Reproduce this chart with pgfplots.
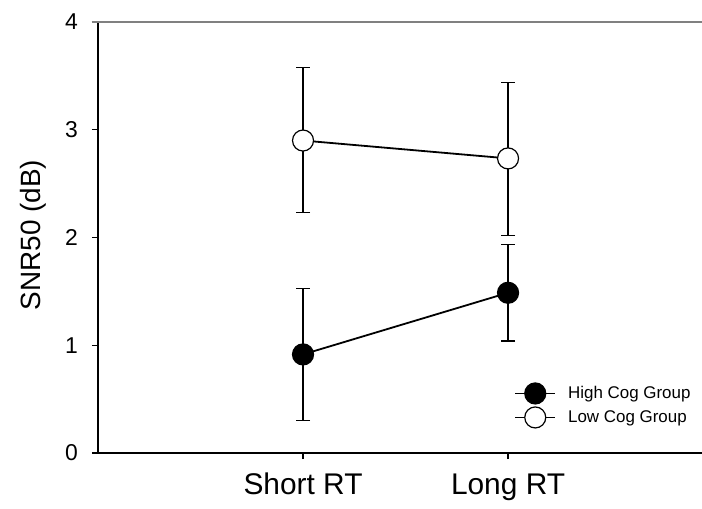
\documentclass[border=0pt]{standalone}
\usepackage{pgfplots}
\pgfplotsset{compat=1.18}
\usepackage{pgfplotstable}
\usepackage{fontspec}
\setmainfont{Liberation Sans}

\pgfplotstableread{
x y ep em
1 0.915 0.615 0.615
2 1.487 0.449 0.447
}\high
\pgfplotstableread{
x y ep em
1 2.900 0.680 0.665
2 2.734 0.701 0.714
}\low

\begin{document}
\begin{tikzpicture}
\begin{axis}[
 name=ax, at={(0,0)}, anchor=south west,
 scale only axis, width=604bp, height=431bp,
 xmin=0, xmax=2.946, ymin=0, ymax=4,
 axis x line=bottom, axis y line=left,
 axis line style={-, line width=1.4bp, black},
 xtick={1,2}, xticklabels={Short RT, Long RT},
 ytick={0,1,2,3,4},
 tick align=outside, major tick length=6bp,
 tick style={black, line width=1.2bp},
 /pgf/number format/assume math mode=true,
 xticklabel style={font=\fontsize{30}{30}\selectfont, inner sep=0pt, anchor=north, text height=21.5bp, text depth=0bp, yshift=-14bp},
 yticklabel style={font=\fontsize{23}{23}\selectfont, inner sep=0pt, xshift=-14bp},
 ylabel={SNR50 (dB)},
 every axis y label/.style={at={(axis description cs:-0.0861,0.506)}, rotate=90, anchor=south, inner sep=0pt, font=\fontsize{28}{28}\selectfont},
 clip=false,
 legend style={draw=none, fill=none, at={(rel axis cs:0.689,0.163)}, anchor=north west, font=\fontsize{17}{20}\selectfont, inner sep=0pt, row sep=3bp, column sep=10bp},
 legend cell align=left,
 legend image code/.code={\draw[#1, mark repeat=2, mark phase=2] plot coordinates {(0bp,0bp)(20bp,0bp)(40bp,0bp)};},
]
\addplot[black, line width=1.8bp, mark=*, mark size=10.5bp, mark options={fill=black, line width=1.2bp},
  error bars/.cd, y dir=both, y explicit,
  error bar style={line width=1.2bp, black},
  error mark options={rotate=90, mark size=7bp, line width=1.2bp, black}]
  table[x=x, y=y, y error plus=ep, y error minus=em]{\high};
\addlegendentry{High Cog Group}
\addplot[black, line width=1.8bp, mark=*, mark size=10.5bp, mark options={fill=white, line width=1.2bp},
  error bars/.cd, y dir=both, y explicit,
  error bar style={line width=1.2bp, black},
  error mark options={rotate=90, mark size=7bp, line width=1.2bp, black}]
  table[x=x, y=y, y error plus=ep, y error minus=em]{\low};
\addlegendentry{Low Cog Group}
\draw[gray, line width=1.3bp] ([xshift=-6bp]rel axis cs:0,1) -- (rel axis cs:1,1);
\end{axis}
\pgfresetboundingbox
\path ([shift={(-98bp,-56bp)}]ax.south west) rectangle ([shift={(604bp,453bp)}]ax.south west);
\end{tikzpicture}
\end{document}
